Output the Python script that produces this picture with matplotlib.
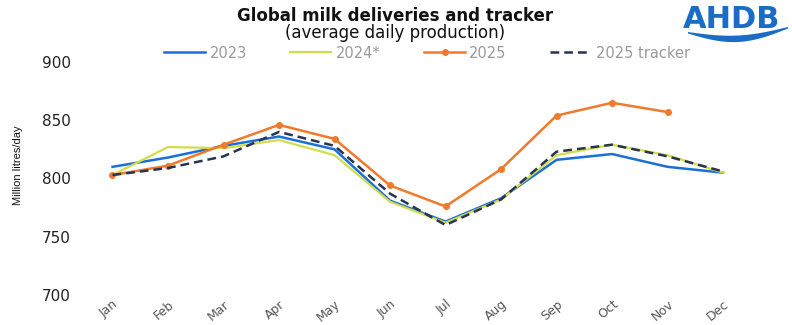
import numpy as np
import matplotlib
matplotlib.use("Agg")
import matplotlib.pyplot as plt
from matplotlib.patches import Polygon
from matplotlib.transforms import ScaledTranslation

plt.rcParams['font.family'] = ['DejaVu Sans']

months = ["Jan", "Feb", "Mar", "Apr", "May", "Jun",
          "Jul", "Aug", "Sep", "Oct", "Nov", "Dec"]
y2023 = [810, 818, 828, 836, 825, 781, 763, 783, 816, 821, 810, 805]
y2024 = [803, 827, 826, 833, 820, 780, 762, 782, 820, 829, 820, 805]
y2025 = [803, 811, 829, 846, 834, 794, 776, 808, 854, 865, 857]
tracker = [803, 809, 819, 840, 828, 787, 760, 782, 823, 829, 819, 806]
yticks = [700, 750, 800, 850, 900]

W, H = 792, 325
fig = plt.figure(figsize=(W / 100, H / 100), dpi=100)
ax = fig.add_axes([0.107, 0.0923, 0.841, 0.717])

x = np.arange(len(months))
l23, = ax.plot(x, y2023, color="#1a6fd8", lw=1.8, label="2023")
l24, = ax.plot(x, y2024, color="#d2dc4c", lw=1.6, label="2024*")
l25, = ax.plot(x[:len(y2025)], y2025, color="#f07a2c", lw=1.8,
               marker="o", ms=4, label="2025")
ltr, = ax.plot(x, tracker, color="#27344f", lw=1.8, ls=(0, (3.5, 2)),
               label="2025 tracker")

ax.set_xlim(-0.5, 11.5)
ax.set_ylim(700, 900)
ax.set_yticks(yticks)
ax.set_xticks(x)
ax.set_xticklabels(months, rotation=40, ha="right", va="top",
                   rotation_mode="anchor", fontsize=9, color="#555555")
shift = ScaledTranslation(3 / 100, 0, fig.dpi_scale_trans)
for lab in ax.get_xticklabels():
    lab.set_transform(lab.get_transform() + shift)
ax.tick_params(axis="both", length=0)
ax.tick_params(axis="y", pad=10, labelsize=11, colors="#222222")
ax.tick_params(axis="x", pad=2)
for s in ax.spines.values():
    s.set_visible(False)

fig.text(18 / W, 1 - 165 / H, "Million litres/day", rotation=90,
         ha="center", va="center", fontsize=8, color="#111111",
         family="Liberation Sans")

fig.text(395 / W, 1 - 16 / H, "Global milk deliveries and tracker",
         ha="center", va="center", fontsize=12, fontweight="bold",
         color="#111111")
fig.text(395 / W, 1 - 33 / H, "(average daily production)",
         ha="center", va="center", fontsize=12, color="#111111")

fig.legend(handles=[l23, l24, l25, ltr], loc="center", ncol=4,
           bbox_to_anchor=(427 / W, 1 - 53 / H), frameon=False,
           fontsize=10.5, labelcolor="#9a9a9a", handlelength=2.8,
           handletextpad=0.3, columnspacing=3.0)

# AHDB logo with a swoosh underneath
fig.text(683 / W, 1 - 28 / H, "AHDB", ha="left", va="baseline",
         fontsize=22, fontweight="bold", color="#1b6cc6")
t = np.linspace(0, 1, 60)
xs = 688 + 100 * t
top = 32 + 6 * np.sin(np.pi * t) - 5 * t
bot = top + 1.5 + 5 * np.sin(np.pi * t)
pts = np.concatenate([np.c_[xs, top], np.c_[xs[::-1], bot[::-1]]])
pts[:, 0] /= W
pts[:, 1] = 1 - pts[:, 1] / H
fig.patches.append(Polygon(pts, closed=True, transform=fig.transFigure,
                           facecolor="#1b6cc6", edgecolor="none"))

fig.savefig("out.png", dpi=100)
